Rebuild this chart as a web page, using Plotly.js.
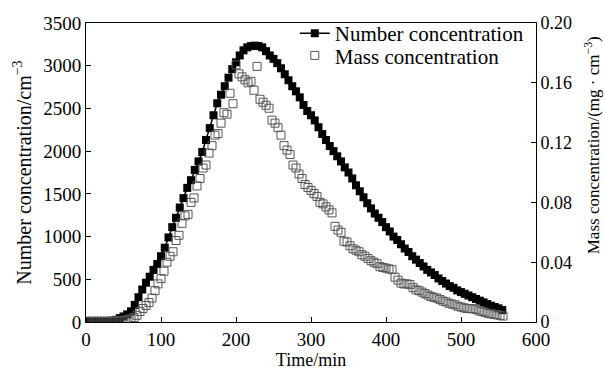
<!DOCTYPE html>
<html>
<head>
<meta charset="utf-8">
<script src="https://cdn.plot.ly/plotly-3.0.1.min.js"></script>
<style>body{margin:0;padding:0;background:#fff}#chart{width:605px;height:370px}</style>
</head>
<body>
<div id="chart"></div>
<script>
// Number concentration (cm^-3), left axis
const numTime = [0,5,10,15,20,25,30,35,40,45,50,55,60,65,70,75,80,85,90,95,100,105,110,115,120,125,130,135,140,145,150,155,160,165,170,175,180,185,190,195,200,205,210,215,220,225,230,235,240,245,250,255,260,265,270,275,280,285,290,295,300,305,310,315,320,325,330,335,340,345,350,355,360,365,370,375,380,385,390,395,400,405,410,415,420,425,430,435,440,445,450,455,460,465,470,475,480,485,490,495,500,505,510,515,520,525,530,535,540,545,550,555];
const numConc = [5,5,5,5,6,8,10,15,25,45,65,90,125,200,290,380,460,530,610,680,770,870,990,1110,1220,1340,1450,1570,1660,1780,1880,1990,2130,2270,2420,2560,2660,2760,2860,2960,3040,3120,3180,3215,3230,3235,3230,3215,3170,3120,3080,3030,2970,2900,2830,2760,2700,2630,2540,2470,2420,2360,2280,2200,2130,2060,2000,1940,1880,1810,1750,1680,1600,1530,1460,1390,1330,1270,1220,1170,1110,1060,1000,960,910,860,820,770,730,690,650,610,580,550,510,480,450,420,400,370,350,330,310,290,270,250,230,210,190,175,160,140];

// Mass concentration (mg·cm^-3), right axis
const massTime = [0,4,8,12,16,20,24,28,32,36,40,44,48,52,56,60,64,68,72,76,80,84,88,92,96,100,104,108,112,116,120,124,128,132,136,140,144,148,152,156,160,164,168,172,176,180,184,188,192,196,200,204,208,212,216,220,224,228,232,236,240,244,248,252,256,260,264,268,272,276,280,284,288,292,296,300,304,308,312,316,320,324,328,332,336,340,344,348,352,356,360,364,368,372,376,380,384,388,392,396,400,404,408,412,416,420,424,428,432,436,440,444,448,452,456,460,464,468,472,476,480,484,488,492,496,500,504,508,512,516,520,524,528,532,536,540,544,548,552,556];
const massConc = [0.0005,0.0005,0.0005,0.0005,0.0005,0.0005,0.0005,0.0005,0.0005,0.0006,0.0007,0.0008,0.0010,0.0012,0.0015,0.0020,0.0030,0.0045,0.0070,0.0090,0.0110,0.0130,0.0160,0.0210,0.0255,0.0290,0.0340,0.0400,0.0440,0.0470,0.0545,0.0580,0.0660,0.0710,0.0720,0.0800,0.0830,0.0910,0.0960,0.1030,0.1050,0.1130,0.1180,0.1250,0.1260,0.1330,0.1400,0.1390,0.1530,0.1460,0.1720,0.1660,0.1640,0.1620,0.1600,0.1610,0.1550,0.1710,0.1490,0.1470,0.1450,0.1430,0.1350,0.1330,0.1300,0.1250,0.1180,0.1150,0.1120,0.1050,0.1030,0.0990,0.0960,0.0920,0.0900,0.0880,0.0860,0.0840,0.0800,0.0790,0.0770,0.0750,0.0730,0.0640,0.0615,0.0600,0.0540,0.0535,0.0510,0.0490,0.0480,0.0470,0.0450,0.0440,0.0425,0.0410,0.0400,0.0390,0.0370,0.0365,0.0360,0.0355,0.0350,0.0300,0.0280,0.0260,0.0255,0.0255,0.0250,0.0230,0.0215,0.0210,0.0200,0.0190,0.0180,0.0170,0.0165,0.0160,0.0150,0.0140,0.0135,0.0125,0.0120,0.0115,0.0105,0.0100,0.0095,0.0090,0.0090,0.0088,0.0085,0.0075,0.0070,0.0065,0.0058,0.0055,0.0050,0.0048,0.0045,0.0040];

const leftTicks = [0,500,1000,1500,2000,2500,3000,3500];
const rightTicks = [0,0.04,0.08,0.12,0.16,0.20];
const rightTickText = ['0','0.04','0.08','0.12','0.16','0.20'];
const xTicks = [0,100,200,300,400,500,600];

const font = '"Liberation Serif", "Times New Roman", Times, serif';

const traces = [
  {
    x: numTime, y: numConc, name: 'Number concentration',
    type: 'scatter', mode: 'lines+markers',
    line: {color: '#000', width: 1.5},
    marker: {symbol: 'square', size: 8, color: '#000'},
    yaxis: 'y', legend: 'legend'
  },
  {
    x: massTime, y: massConc, name: 'Mass concentration',
    type: 'scatter', mode: 'markers',
    marker: {symbol: 'square-open', size: 8, color: '#555', line: {width: 1, color: '#555'}},
    yaxis: 'y2', legend: 'legend2'
  }
];

const legendCommon = {xanchor: 'left', yanchor: 'top', bgcolor: 'rgba(0,0,0,0)',
  font: {family: font, size: 21, color: '#000'}, itemwidth: 30};

const layout = {
  width: 605, height: 370,
  margin: {l: 86, r: 69, t: 23, b: 48},
  paper_bgcolor: '#fff', plot_bgcolor: '#fff',
  font: {family: font, size: 19, color: '#000'},
  showlegend: true,
  legend: Object.assign({x: 0.464, y: 1.033}, legendCommon),
  legend2: Object.assign({x: 0.464, y: 0.959}, legendCommon),
  xaxis: {
    range: [0, 600], tickvals: xTicks, ticks: 'inside', ticklen: 5, tickcolor: '#000',
    showline: true, linecolor: '#000', linewidth: 1, mirror: true, showgrid: false, zeroline: false,
    title: {text: 'Time/min', font: {family: font, size: 18}, standoff: 0},
    tickfont: {family: font, size: 19}
  },
  yaxis: {
    range: [0, 3500], tickvals: leftTicks, ticks: 'inside', ticklen: 5, tickcolor: '#000',
    showline: true, linecolor: '#000', linewidth: 1, showgrid: false, zeroline: false,
    title: {text: 'Number concentration/cm<sup>−3</sup>', font: {family: font, size: 20}, standoff: 6},
    tickfont: {family: font, size: 19}, tickformat: 'd'
  },
  yaxis2: {
    range: [0, 0.20], overlaying: 'y', side: 'right', tickvals: rightTicks, ticktext: rightTickText,
    ticks: 'inside', ticklen: 5, tickcolor: '#000',
    showline: true, linecolor: '#000', linewidth: 1, showgrid: false, zeroline: false,
    tickfont: {family: font, size: 18}
  },
  annotations: [{
    text: 'Mass concentration/(mg · cm<sup>−3</sup>)', textangle: -90,
    xref: 'paper', yref: 'paper', x: 1.125, y: 0.592, xanchor: 'center', yanchor: 'middle',
    showarrow: false, font: {family: font, size: 17, color: '#000'}
  }]
};

Plotly.newPlot('chart', traces, layout, {displayModeBar: false, staticPlot: true});
</script>
</body>
</html>
